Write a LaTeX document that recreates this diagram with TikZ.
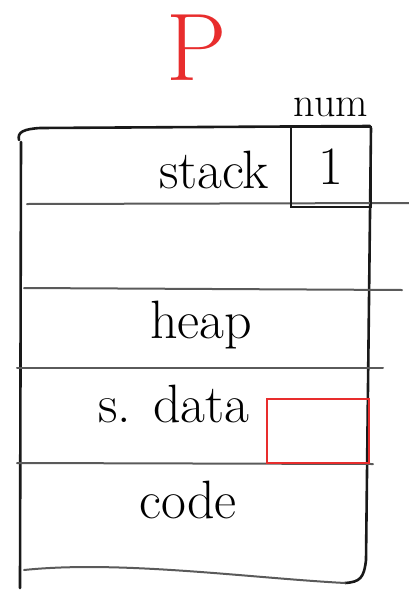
\documentclass[tikz,border=0pt]{standalone}
\usepackage{tikz}
\usetikzlibrary{positioning}
\definecolor{penred}{RGB}{232,45,45}
\definecolor{pengray}{RGB}{90,90,90}
\tikzset{
  segtext/.style={font=\fontsize{54}{60}\selectfont,inner sep=0pt},
  titletext/.style={font=\fontsize{96}{100}\selectfont,text=penred,inner sep=0pt},
  wall/.style={draw=black!90,line width=2.6pt,line cap=round},
  divider/.style={draw=pengray,line width=2pt,line cap=round},
  cellbox/.style={draw=black!90,line width=2.4pt,inner sep=0pt,
    font=\fontsize{54}{60}\selectfont},
  markbox/.style={draw=penred,line width=2.4pt,inner sep=0pt}
}
\begin{document}
\begin{tikzpicture}[x=1pt,y=-1pt]
  \useasboundingbox (0,0) rectangle (409,592);
  % process name
  \node[titletext,anchor=base] (title) at (197,80) {P};
  % address space frame
  \draw[wall] (19,140) .. controls (17,132) and (24,129) .. (40,128) -- (370,126);
  \draw[wall] (21,142) -- (20,588);
  \draw[wall] (371,128) -- (366,560) .. controls (364,578) and (360,582) .. (345,583);
  \draw[divider] (24,570) .. controls (120,560) and (250,578) .. (345,583);
  % segment boundaries
  \draw[divider] (27,204) -- (409,203);
  \draw[divider] (24,288) -- (402,290);
  \draw[divider] (17,368) -- (383,368);
  \draw[divider] (17,463) -- (373,464);
  % segments
  \node[segtext,anchor=base] (stack) at (214,188) {stack};
  \node[segtext,anchor=base] (heap) at (201,338) {heap};
  \node[segtext,anchor=base] (sdata) at (174,422) {s. data};
  \node[segtext,anchor=base] (code) at (188,518) {code};
  % variable on the stack
  \node[cellbox,minimum width=80,minimum height=80] (numcell) at (331,167) {1};
  \node[font=\fontsize{42}{46}\selectfont,inner sep=0pt,above=9pt of numcell] (num) {num};
  % static data slot
  \node[markbox,minimum width=102,minimum height=64] (sdatacell) at (318,431) {};
\end{tikzpicture}
\end{document}
